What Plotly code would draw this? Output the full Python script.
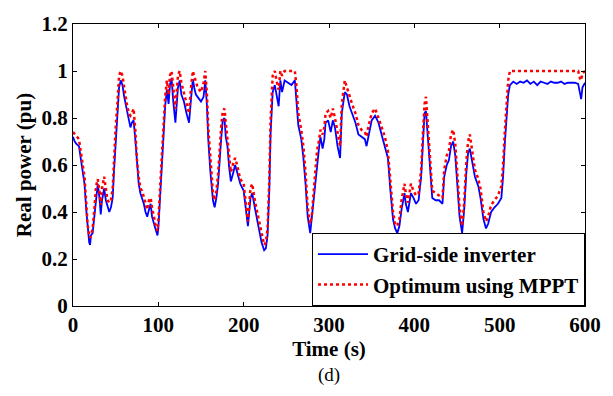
import plotly.graph_objects as go

time_s = [0, 2, 4, 7, 9, 11, 13.5, 15.5, 17, 19, 20, 21, 23, 25, 27, 29, 31, 32.5, 34, 36.5,
          38.5, 40.5, 42.5, 44.5, 46.5, 48, 50, 52, 54, 56, 58, 60, 61.5, 63.5, 65.5, 67.3, 69, 71, 73, 75,
          77, 79, 81, 83, 85, 87, 89, 91, 92.6, 94.5, 96.5, 99, 100, 102, 104, 106, 108, 110, 112, 113.6,
          115.5, 117.5, 120, 123, 125, 127, 130, 133, 136, 138.5, 140.5, 142, 144, 146, 150, 153, 155, 157, 158.5, 161,
          164, 166, 168, 170, 172, 173.6, 175.5, 177.5, 179, 181, 183, 185, 188, 190, 192.3, 196, 200, 202, 205, 208,
          210, 213.5, 217.5, 221, 224, 226, 228, 230, 231.5, 234, 236.5, 238.5, 241, 243, 245, 248, 252, 256, 260, 262,
          264, 267.5, 270, 272.5, 275, 278, 280, 283, 286, 288.5, 290, 292.5, 294.5, 296, 299, 302, 304.5, 307, 310, 313,
          315, 318.5, 321, 324, 327, 331, 334.5, 338, 342, 344, 346, 350, 354, 358, 361.6, 365.5, 369, 372, 375, 377.5,
          380, 382.5, 385, 388.5, 390, 392.5, 396, 399, 402, 405, 408, 410, 412, 413.6, 415.5, 418.6, 421, 425, 429, 433,
          435, 438, 440.5, 443, 445.5, 448, 451, 453, 456, 458.4, 461, 463, 465, 468.4, 471, 475, 477.5, 481, 484, 486.5,
          490, 494, 498, 502, 504, 506, 508, 510, 512, 516, 520, 524, 528, 532, 536, 540, 544, 548, 552, 556,
          560, 564, 568, 572, 576, 580, 584, 588, 592, 594, 595.5, 597, 600]

grid_inverter = [0.72, 0.70, 0.69, 0.68, 0.63, 0.58, 0.52, 0.41, 0.33, 0.27, 0.26, 0.30, 0.31, 0.38, 0.48, 0.52, 0.46, 0.39, 0.45, 0.50,
                 0.45, 0.42, 0.40, 0.42, 0.46, 0.57, 0.71, 0.80, 0.93, 0.96, 0.94, 0.89, 0.86, 0.82, 0.78, 0.76, 0.78, 0.79, 0.71, 0.59,
                 0.52, 0.48, 0.46, 0.435, 0.40, 0.38, 0.41, 0.435, 0.38, 0.35, 0.33, 0.30, 0.33, 0.46, 0.58, 0.74, 0.85, 0.92, 0.86, 0.94,
                 0.97, 0.87, 0.78, 0.93, 0.96, 0.90, 0.87, 0.82, 0.78, 0.89, 0.965, 0.93, 0.90, 0.89, 0.87, 0.89, 0.96, 0.85, 0.71, 0.57,
                 0.45, 0.42, 0.46, 0.52, 0.64, 0.71, 0.79, 0.80, 0.72, 0.68, 0.59, 0.53, 0.57, 0.60, 0.57, 0.52, 0.49, 0.435, 0.34, 0.46,
                 0.48, 0.41, 0.34, 0.27, 0.237, 0.245, 0.30, 0.49, 0.73, 0.91, 0.94, 0.90, 0.85, 0.96, 0.91, 0.96, 0.95, 0.94, 0.96, 0.85,
                 0.77, 0.71, 0.63, 0.52, 0.38, 0.31, 0.38, 0.49, 0.62, 0.68, 0.72, 0.67, 0.71, 0.78, 0.79, 0.74, 0.79, 0.76, 0.68, 0.63,
                 0.82, 0.91, 0.90, 0.85, 0.82, 0.78, 0.73, 0.72, 0.71, 0.68, 0.72, 0.79, 0.81, 0.78, 0.73, 0.68, 0.63, 0.49, 0.37, 0.33,
                 0.31, 0.34, 0.41, 0.48, 0.435, 0.40, 0.48, 0.46, 0.435, 0.45, 0.55, 0.69, 0.82, 0.83, 0.74, 0.57, 0.46, 0.45, 0.45, 0.435,
                 0.55, 0.60, 0.62, 0.68, 0.70, 0.64, 0.49, 0.38, 0.31, 0.41, 0.57, 0.65, 0.67, 0.60, 0.55, 0.51, 0.46, 0.37, 0.33, 0.35,
                 0.40, 0.42, 0.435, 0.46, 0.55, 0.69, 0.78, 0.90, 0.94, 0.955, 0.945, 0.955, 0.95, 0.96, 0.945, 0.955, 0.94, 0.955, 0.95, 0.945,
                 0.955, 0.95, 0.95, 0.955, 0.945, 0.95, 0.95, 0.95, 0.945, 0.90, 0.88, 0.93, 0.95]

optimum_mppt = [0.74, 0.73, 0.72, 0.71, 0.66, 0.61, 0.55, 0.44, 0.35, 0.30, 0.29, 0.30, 0.33, 0.41, 0.51, 0.54, 0.49, 0.43, 0.50, 0.55,
                0.49, 0.45, 0.44, 0.45, 0.50, 0.62, 0.76, 0.86, 0.98, 1.00, 0.98, 0.93, 0.89, 0.85, 0.82, 0.81, 0.82, 0.84, 0.75, 0.62,
                0.55, 0.50, 0.49, 0.46, 0.43, 0.41, 0.45, 0.46, 0.42, 0.38, 0.35, 0.32, 0.36, 0.50, 0.63, 0.79, 0.89, 0.96, 0.90, 0.98,
                1.00, 0.93, 0.84, 0.98, 1.00, 0.95, 0.91, 0.86, 0.82, 0.94, 1.00, 0.98, 0.95, 0.93, 0.91, 0.95, 1.00, 0.90, 0.76, 0.61,
                0.48, 0.45, 0.49, 0.56, 0.68, 0.76, 0.83, 0.84, 0.78, 0.70, 0.62, 0.57, 0.61, 0.63, 0.60, 0.54, 0.52, 0.46, 0.36, 0.50,
                0.52, 0.44, 0.37, 0.30, 0.26, 0.27, 0.33, 0.54, 0.79, 0.98, 1.00, 0.96, 0.92, 1.00, 0.98, 1.00, 1.00, 1.00, 1.00, 0.93,
                0.82, 0.75, 0.68, 0.57, 0.42, 0.35, 0.39, 0.53, 0.66, 0.71, 0.75, 0.73, 0.76, 0.82, 0.83, 0.80, 0.84, 0.80, 0.73, 0.68,
                0.86, 0.96, 0.93, 0.89, 0.86, 0.82, 0.77, 0.75, 0.74, 0.72, 0.76, 0.82, 0.84, 0.80, 0.76, 0.72, 0.66, 0.53, 0.40, 0.35,
                0.34, 0.37, 0.45, 0.52, 0.48, 0.44, 0.52, 0.49, 0.47, 0.48, 0.58, 0.73, 0.86, 0.89, 0.79, 0.61, 0.49, 0.48, 0.47, 0.46,
                0.58, 0.64, 0.66, 0.73, 0.75, 0.69, 0.53, 0.42, 0.34, 0.44, 0.62, 0.70, 0.73, 0.65, 0.58, 0.54, 0.50, 0.40, 0.36, 0.38,
                0.43, 0.45, 0.47, 0.51, 0.60, 0.74, 0.85, 0.96, 1.00, 1.00, 1.00, 1.00, 1.00, 1.00, 1.00, 1.00, 1.00, 1.00, 1.00, 1.00,
                1.00, 1.00, 1.00, 1.00, 1.00, 1.00, 1.00, 1.00, 1.00, 0.97, 0.96, 0.99, 1.00]

x_ticks = [0, 100, 200, 300, 400, 500, 600]
y_ticks = [0, 0.2, 0.4, 0.6, 0.8, 1.0, 1.2]
y_tick_labels = ["0", "0.2", "0.4", "0.6", "0.8", "1", "1.2"]

FONT = "Liberation Serif, Times New Roman, serif"

fig = go.Figure()
fig.add_trace(go.Scatter(x=time_s, y=grid_inverter, mode="lines", name="Grid-side inverter",
                         line=dict(color="#0000ff", width=1.8)))
fig.add_trace(go.Scatter(x=time_s, y=optimum_mppt, mode="lines", name="Optimum using MPPT",
                         line=dict(color="#ff0000", width=2.5, dash="dot")))

axis_common = dict(showline=True, linecolor="black", linewidth=1, mirror="ticks",
                   ticks="inside", ticklen=4, tickcolor="black", showgrid=False, zeroline=False,
                   tickfont=dict(family=FONT, size=21, color="black", weight="bold"))

fig.update_xaxes(range=[0, 600], tickvals=x_ticks, ticktext=[str(v) for v in x_ticks],
                 title=dict(text="Time (s)", font=dict(family=FONT, size=21, color="black", weight="bold"), standoff=0),
                 **axis_common)
fig.update_yaxes(range=[0, 1.2], tickvals=y_ticks, ticktext=y_tick_labels,
                 title=dict(text="Real power (pu)", font=dict(family=FONT, size=21, color="black", weight="bold"), standoff=4),
                 **axis_common)

fig.update_layout(
    width=613, height=396,
    margin=dict(l=73, r=19, t=14, b=90),
    plot_bgcolor="white", paper_bgcolor="white",
    legend=dict(x=1, xanchor="right", y=0, yanchor="bottom",
                bgcolor="white", bordercolor="black", borderwidth=1,
                font=dict(family=FONT, size=21, color="black", weight="bold"),
                itemwidth=50, tracegroupgap=0),
    annotations=[dict(text="(d)", x=0.5, xref="paper", y=-0.243, yref="paper",
                      xanchor="center", yanchor="middle", showarrow=False,
                      font=dict(family=FONT, size=19, color="black"))],
)

fig.write_html("out.html")
